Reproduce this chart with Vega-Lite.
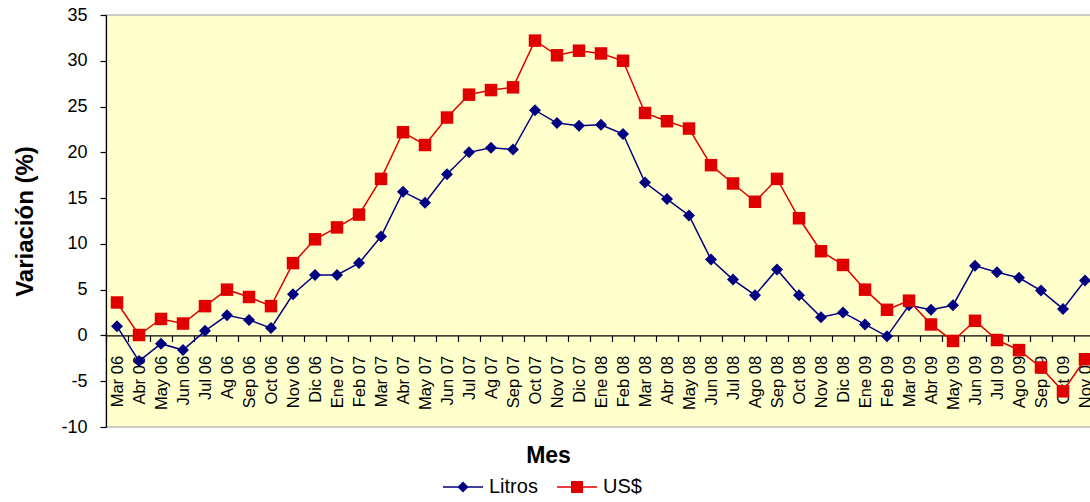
{
  "$schema": "https://vega.github.io/schema/vega-lite/v6.json",
  "width": 990,
  "height": 412,
  "autosize": {"type": "none"},
  "padding": {"left": 106, "top": 15, "right": 0, "bottom": 75},
  "background": "white",
  "config": {
    "font": "Liberation Sans",
    "view": {"fill": "#FFFFCC", "stroke": "#BBBBBB", "strokeWidth": 1.5},
    "axis": {"grid": false, "domainColor": "black", "tickColor": "black", "labelColor": "black", "titleColor": "black", "labelFont": "Liberation Sans", "titleFont": "Liberation Sans"},
    "legend": {
      "orient": "none", "direction": "horizontal", "legendX": 337, "legendY": 452,
      "labelFontSize": 20, "labelColor": "black", "labelFont": "Liberation Sans", "labelOffset": 6, "columnPadding": 19, "padding": 0,
      "symbolSize": 1600, "symbolOpacity": 1, "symbolStrokeWidth": 0
    }
  },
  "data": {
    "values": [
      {"mes": "Mar 06", "serie": "Litros", "valor": 1.0},
      {"mes": "Abr 06", "serie": "Litros", "valor": -2.8},
      {"mes": "May 06", "serie": "Litros", "valor": -0.9},
      {"mes": "Jun 06", "serie": "Litros", "valor": -1.6},
      {"mes": "Jul 06", "serie": "Litros", "valor": 0.5},
      {"mes": "Ag 06", "serie": "Litros", "valor": 2.2},
      {"mes": "Sep 06", "serie": "Litros", "valor": 1.7},
      {"mes": "Oct 06", "serie": "Litros", "valor": 0.8},
      {"mes": "Nov 06", "serie": "Litros", "valor": 4.5},
      {"mes": "Dic 06", "serie": "Litros", "valor": 6.6},
      {"mes": "Ene 07", "serie": "Litros", "valor": 6.6},
      {"mes": "Feb 07", "serie": "Litros", "valor": 7.9},
      {"mes": "Mar 07", "serie": "Litros", "valor": 10.8},
      {"mes": "Abr 07", "serie": "Litros", "valor": 15.7},
      {"mes": "May 07", "serie": "Litros", "valor": 14.5},
      {"mes": "Jun 07", "serie": "Litros", "valor": 17.6},
      {"mes": "Jul 07", "serie": "Litros", "valor": 20.0},
      {"mes": "Ag 07", "serie": "Litros", "valor": 20.5},
      {"mes": "Sep 07", "serie": "Litros", "valor": 20.3},
      {"mes": "Oct 07", "serie": "Litros", "valor": 24.6},
      {"mes": "Nov 07", "serie": "Litros", "valor": 23.2},
      {"mes": "Dic 07", "serie": "Litros", "valor": 22.9},
      {"mes": "Ene 08", "serie": "Litros", "valor": 23.0},
      {"mes": "Feb 08", "serie": "Litros", "valor": 22.0},
      {"mes": "Mar 08", "serie": "Litros", "valor": 16.7},
      {"mes": "Abr 08", "serie": "Litros", "valor": 14.9},
      {"mes": "May 08", "serie": "Litros", "valor": 13.1},
      {"mes": "Jun 08", "serie": "Litros", "valor": 8.3},
      {"mes": "Jul 08", "serie": "Litros", "valor": 6.1},
      {"mes": "Ago 08", "serie": "Litros", "valor": 4.4},
      {"mes": "Sep 08", "serie": "Litros", "valor": 7.2},
      {"mes": "Oct 08", "serie": "Litros", "valor": 4.4},
      {"mes": "Nov 08", "serie": "Litros", "valor": 2.0},
      {"mes": "Dic 08", "serie": "Litros", "valor": 2.5},
      {"mes": "Ene 09", "serie": "Litros", "valor": 1.2},
      {"mes": "Feb 09", "serie": "Litros", "valor": -0.1},
      {"mes": "Mar 09", "serie": "Litros", "valor": 3.3},
      {"mes": "Abr 09", "serie": "Litros", "valor": 2.8},
      {"mes": "May 09", "serie": "Litros", "valor": 3.3},
      {"mes": "Jun 09", "serie": "Litros", "valor": 7.6},
      {"mes": "Jul 09", "serie": "Litros", "valor": 6.9},
      {"mes": "Ago 09", "serie": "Litros", "valor": 6.3},
      {"mes": "Sep 09", "serie": "Litros", "valor": 4.9},
      {"mes": "Oct 09", "serie": "Litros", "valor": 2.9},
      {"mes": "Nov 09", "serie": "Litros", "valor": 6.0},
      {"mes": "Mar 06", "serie": "US$", "valor": 3.6},
      {"mes": "Abr 06", "serie": "US$", "valor": 0.05},
      {"mes": "May 06", "serie": "US$", "valor": 1.8},
      {"mes": "Jun 06", "serie": "US$", "valor": 1.3},
      {"mes": "Jul 06", "serie": "US$", "valor": 3.2},
      {"mes": "Ag 06", "serie": "US$", "valor": 5.0},
      {"mes": "Sep 06", "serie": "US$", "valor": 4.2},
      {"mes": "Oct 06", "serie": "US$", "valor": 3.2},
      {"mes": "Nov 06", "serie": "US$", "valor": 7.9},
      {"mes": "Dic 06", "serie": "US$", "valor": 10.5},
      {"mes": "Ene 07", "serie": "US$", "valor": 11.8},
      {"mes": "Feb 07", "serie": "US$", "valor": 13.2},
      {"mes": "Mar 07", "serie": "US$", "valor": 17.1},
      {"mes": "Abr 07", "serie": "US$", "valor": 22.2},
      {"mes": "May 07", "serie": "US$", "valor": 20.8},
      {"mes": "Jun 07", "serie": "US$", "valor": 23.8},
      {"mes": "Jul 07", "serie": "US$", "valor": 26.3},
      {"mes": "Ag 07", "serie": "US$", "valor": 26.8},
      {"mes": "Sep 07", "serie": "US$", "valor": 27.1},
      {"mes": "Oct 07", "serie": "US$", "valor": 32.2},
      {"mes": "Nov 07", "serie": "US$", "valor": 30.6},
      {"mes": "Dic 07", "serie": "US$", "valor": 31.1},
      {"mes": "Ene 08", "serie": "US$", "valor": 30.8},
      {"mes": "Feb 08", "serie": "US$", "valor": 30.0},
      {"mes": "Mar 08", "serie": "US$", "valor": 24.3},
      {"mes": "Abr 08", "serie": "US$", "valor": 23.4},
      {"mes": "May 08", "serie": "US$", "valor": 22.6},
      {"mes": "Jun 08", "serie": "US$", "valor": 18.6},
      {"mes": "Jul 08", "serie": "US$", "valor": 16.6},
      {"mes": "Ago 08", "serie": "US$", "valor": 14.6},
      {"mes": "Sep 08", "serie": "US$", "valor": 17.1},
      {"mes": "Oct 08", "serie": "US$", "valor": 12.8},
      {"mes": "Nov 08", "serie": "US$", "valor": 9.2},
      {"mes": "Dic 08", "serie": "US$", "valor": 7.7},
      {"mes": "Ene 09", "serie": "US$", "valor": 5.0},
      {"mes": "Feb 09", "serie": "US$", "valor": 2.8},
      {"mes": "Mar 09", "serie": "US$", "valor": 3.8},
      {"mes": "Abr 09", "serie": "US$", "valor": 1.2},
      {"mes": "May 09", "serie": "US$", "valor": -0.6},
      {"mes": "Jun 09", "serie": "US$", "valor": 1.6},
      {"mes": "Jul 09", "serie": "US$", "valor": -0.5},
      {"mes": "Ago 09", "serie": "US$", "valor": -1.6},
      {"mes": "Sep 09", "serie": "US$", "valor": -3.5},
      {"mes": "Oct 09", "serie": "US$", "valor": -6.1},
      {"mes": "Nov 09", "serie": "US$", "valor": -2.6}
    ]
  },
  "encoding": {
    "x": {
      "field": "mes", "type": "nominal", "sort": null,
      "scale": {"paddingInner": 0, "paddingOuter": 0},
      "axis": {
        "title": "Mes", "titleFontSize": 23, "titleFontWeight": "bold",
        "titleX": 442, "titleY": 127, "titleBaseline": "alphabetic", "titleAnchor": "middle",
        "offset": -91.56, "labelAngle": 270, "labelFontSize": 16.5, "labelPadding": 14,
        "labelOverlap": false, "labelFlush": false, "labelBound": false,
        "tickBand": "extent", "tickSize": 6, "domainWidth": 1.2, "tickWidth": 1.2, "zindex": 0
      }
    },
    "y": {
      "field": "valor", "type": "quantitative",
      "scale": {"domain": [-10, 35], "nice": false, "zero": false},
      "axis": {
        "title": "Variación (%)", "titleFontSize": 24, "titleFontWeight": "bold", "titlePadding": 23,
        "values": [-10, -5, 0, 5, 10, 15, 20, 25, 30, 35], "labelFontSize": 18, "labelPadding": 13,
        "labelExpr": "replace(datum.label, '−', '-')",
        "tickSize": 6, "domainWidth": 1.2, "tickWidth": 1.2
      }
    },
    "color": {"field": "serie", "type": "nominal", "title": null, "scale": {"domain": ["Litros", "US$"], "range": ["#000080", "#E00000"]}}
  },
  "layer": [
    {
      "mark": {"type": "line", "strokeWidth": 1.5}
    },
    {
      "transform": [{"filter": "datum.serie === 'Litros'"}],
      "mark": {"type": "point", "filled": true, "opacity": 1, "shape": "diamond", "size": 144}
    },
    {
      "transform": [{"filter": "datum.serie === 'US$'"}],
      "mark": {"type": "point", "filled": true, "opacity": 1, "shape": "square", "size": 156}
    },
    {
      "mark": {"type": "point", "filled": true, "opacity": 0},
      "encoding": {
        "shape": {
          "field": "serie", "type": "nominal", "title": null,
          "scale": {"domain": ["Litros", "US$"], "range": [
            "M-1,-0.0375H1V0.0375H-1Z M-0.28,0L0,-0.28L0.28,0L0,0.28Z",
            "M-1,-0.0375H1V0.0375H-1Z M-0.3,-0.3H0.3V0.3H-0.3Z"
          ]}
        }
      }
    }
  ]
}
